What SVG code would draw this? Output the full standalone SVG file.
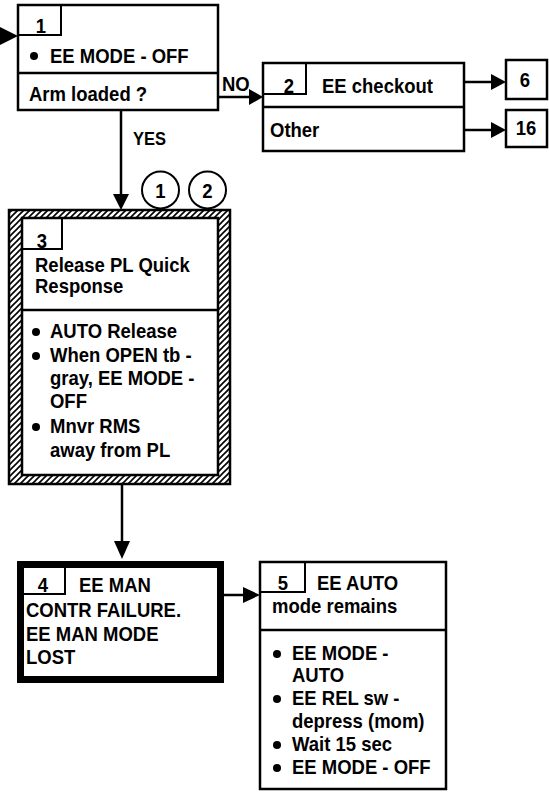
<svg xmlns="http://www.w3.org/2000/svg" width="549" height="792" viewBox="0 0 549 792">
<style>
text{font-family:"Liberation Sans",Arial,sans-serif;font-weight:bold;font-size:18.5px;fill:#000;transform-box:fill-box;transform-origin:50% 80%;transform:scaleY(1.12)}
.c{text-anchor:middle}
.box{fill:#fff;stroke:#000;stroke-width:2.5}
.ln{fill:none;stroke:#000;stroke-width:2.5}
.tab{fill:none;stroke:#000;stroke-width:2}
.con{fill:none;stroke:#000;stroke-width:2.5}
.ah{fill:#000;stroke:none}
.dot{fill:#000}
</style>
<defs>
<pattern id="hatch" patternUnits="userSpaceOnUse" width="6" height="6">
<rect width="6" height="6" fill="#fff"/>
<path d="M-1,7 L7,-1 M-4,4 L4,-4 M2,10 L10,2" stroke="#000" stroke-width="1.6"/>
</pattern>
</defs>

<g id="connectors">
<polygon class="ah" points="0,27 18,36 0,45"/>
<line class="con" x1="218" y1="97" x2="251" y2="97"/>
<polygon class="ah" points="249,89 263,97 249,105"/>
<line class="con" x1="464" y1="82" x2="493" y2="82"/>
<polygon class="ah" points="491,74 506,82 491,90"/>
<line class="con" x1="464" y1="130" x2="493" y2="130"/>
<polygon class="ah" points="491,122 506,130 491,138"/>
<line class="con" x1="121" y1="110" x2="121" y2="196"/>
<polygon class="ah" points="113,194 121,210 129,194"/>
<line class="con" x1="122" y1="484" x2="122" y2="543"/>
<polygon class="ah" points="114,541 122,559 130,541"/>
<line class="con" x1="224" y1="595" x2="245" y2="595"/>
<polygon class="ah" points="243,587 260,595 243,603"/>
<text x="222" y="91">NO</text>
<text x="133" y="145" style="font-size:16.5px">YES</text>
</g>

<g id="node1">
<rect class="box" x="18" y="5" width="200" height="105"/>
<line class="ln" x1="18" y1="73" x2="218" y2="73"/>
<path class="tab" d="M61,5 V35 H18"/>
<text class="c" x="41" y="33">1</text>
<circle class="dot" cx="34" cy="56" r="4"/>
<text x="50" y="63">EE MODE - OFF</text>
<text x="29" y="101">Arm loaded ?</text>
</g>

<g id="node2">
<rect class="box" x="263" y="63" width="201" height="88"/>
<line class="ln" x1="263" y1="107" x2="464" y2="107"/>
<path class="tab" d="M306,63 V94 H263"/>
<text class="c" x="289" y="93">2</text>
<text x="322" y="93">EE checkout</text>
<text x="270" y="137">Other</text>
</g>

<g id="node6">
<rect class="box" x="506" y="60" width="41" height="39"/>
<text class="c" x="525" y="87">6</text>
</g>

<g id="node16">
<rect class="box" x="506" y="110" width="41" height="37"/>
<text class="c" x="526" y="135">16</text>
</g>

<g id="refs">
<circle cx="160.5" cy="190" r="18.5" fill="#fff" stroke="#000" stroke-width="2"/>
<text class="c" x="160.5" y="198">1</text>
<circle cx="207.5" cy="190" r="18.5" fill="#fff" stroke="#000" stroke-width="2"/>
<text class="c" x="207.5" y="198">2</text>
</g>

<g id="node3">
<path d="M9,210 H230 V484 H9 Z M22,218 V475 H218 V218 Z" fill="url(#hatch)" fill-rule="evenodd" stroke="#000" stroke-width="2.5"/>
<line class="ln" x1="22" y1="310" x2="218" y2="310"/>
<path class="tab" d="M62,218 V249 H22"/>
<text class="c" x="42" y="248">3</text>
<text x="35" y="272">Release PL Quick</text>
<text x="35" y="293">Response</text>
<circle class="dot" cx="36" cy="332" r="4"/>
<text x="50" y="338">AUTO Release</text>
<circle class="dot" cx="36" cy="356" r="4"/>
<text x="50" y="362">When OPEN tb -</text>
<text x="50" y="385">gray, EE MODE -</text>
<text x="50" y="408">OFF</text>
<circle class="dot" cx="36" cy="427" r="4"/>
<text x="50" y="433">Mnvr RMS</text>
<text x="50" y="457">away from PL</text>
</g>

<g id="node4">
<rect x="20.5" y="564.5" width="200" height="115" fill="#fff" stroke="#000" stroke-width="7"/>
<path class="tab" d="M65,567 V594 H24"/>
<text class="c" x="43" y="592">4</text>
<text x="79" y="592">EE MAN</text>
<text x="26" y="617">CONTR FAILURE.</text>
<text x="26" y="641">EE MAN MODE</text>
<text x="26" y="664">LOST</text>
</g>

<g id="node5">
<rect class="box" x="260" y="562" width="186" height="227"/>
<line class="ln" x1="260" y1="630" x2="446" y2="630"/>
<path class="tab" d="M305,562 V592 H260"/>
<text class="c" x="283" y="590">5</text>
<text x="317" y="590">EE AUTO</text>
<text x="272" y="613">mode remains</text>
<circle class="dot" cx="277" cy="654" r="4"/>
<text x="292" y="660">EE MODE -</text>
<text x="292" y="682">AUTO</text>
<circle class="dot" cx="277" cy="699" r="4"/>
<text x="292" y="705">EE REL sw -</text>
<text x="292" y="728">depress (mom)</text>
<circle class="dot" cx="277" cy="745" r="4"/>
<text x="292" y="751">Wait 15 sec</text>
<circle class="dot" cx="277" cy="768" r="4"/>
<text x="292" y="774">EE MODE - OFF</text>
</g>
</svg>
